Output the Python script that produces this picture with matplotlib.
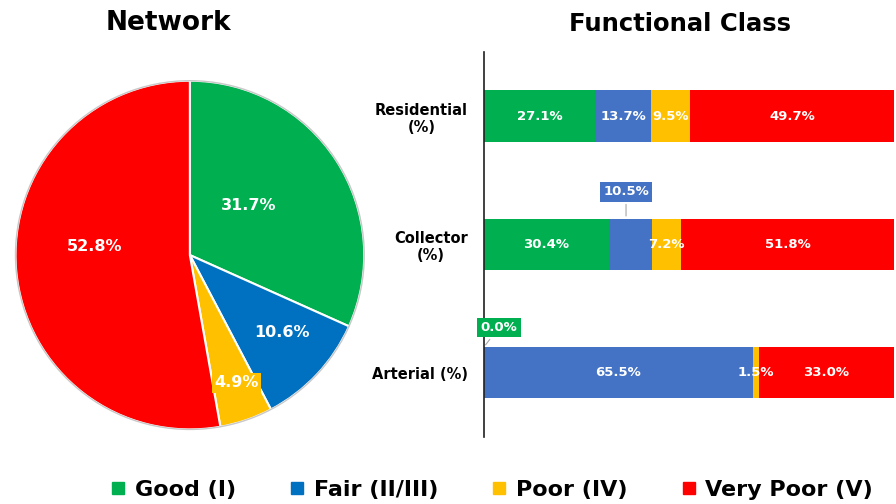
import numpy as np
import matplotlib
matplotlib.use("Agg")
import matplotlib.pyplot as plt
from matplotlib.lines import Line2D

# condition classes
classes = ["Good (I)", "Fair (II/III)", "Poor (IV)", "Very Poor (V)"]

# network-wide share (%)
network = [31.7, 10.6, 4.9, 52.8]

# share by functional class (%)
func_classes = ["Residential\n(%)", "Collector\n(%)", "Arterial (%)"]
good = [27.1, 30.4, 0.0]
fair = [13.7, 10.5, 65.5]
poor = [9.5, 7.2, 1.5]
very_poor = [49.7, 51.8, 33.0]

pie_colors = ["#00B050", "#0070C0", "#FFC000", "#FF0000"]
bar_colors = ["#00B050", "#4472C4", "#FFC000", "#FF0000"]

fig = plt.figure(figsize=(8.96, 5.04), dpi=100)

# ---- pie: network ----
ax1 = fig.add_axes([0.0134, 0.1409, 0.397, 0.706])
wedges, _ = ax1.pie(network, colors=pie_colors, startangle=90, counterclock=False,
                    wedgeprops=dict(edgecolor="white", linewidth=1.5))
ax1.add_patch(plt.Circle((0, 0), 1.0, fill=False, ec="#C8C8C8", lw=1.0))
ax1.set_xlim(-1.02, 1.02)
ax1.set_ylim(-1.02, 1.02)
ax1.set_aspect("equal")
ax1.axis("off")

# label radius / angle nudge per wedge
lab_r = [0.44, 0.69, 0.78, 0.55]
lab_da = [7, 3, 1, -10]
for w, v, r, da, c in zip(wedges, network, lab_r, lab_da, pie_colors):
    a = np.deg2rad((w.theta1 + w.theta2) / 2 + da)
    kw = {}
    if v < 6:
        kw["bbox"] = dict(boxstyle="square,pad=0.15", fc=c, ec="none")
    ax1.text(r * np.cos(a), r * np.sin(a), f"{v:.1f}%", ha="center", va="center",
             color="white", fontsize=11.5, fontweight="bold", **kw)

fig.text(0.1875, 0.955, "Network", ha="center", va="center", fontsize=19, fontweight="bold")

# ---- stacked bars: functional class ----
ax2 = fig.add_axes([0.540, 0.133, 0.458, 0.764])
series = [good, fair, poor, very_poor]
y = np.arange(len(func_classes))
left = np.zeros(len(func_classes))
# callout labels: (category, class) -> offset (dx %, dy) of the box
callouts = {(1, 1): (-1.0, -0.41), (2, 0): (3.7, -0.354)}
for k, (vals, c) in enumerate(zip(series, bar_colors)):
    vals = np.array(vals)
    ax2.barh(y, vals, left=left, height=0.4, color=c, edgecolor="none")
    for i, v in enumerate(vals):
        xc = left[i] + v / 2
        if (i, k) in callouts:
            dx, dy = callouts[(i, k)]
            xp = 0 if v == 0 else xc + dx
            ax2.annotate(f"{v:.1f}%", xy=(xp, i - 0.2), xytext=(xc + dx if v else dx, i + dy),
                         ha="center", va="center", color="white", fontsize=9.5, fontweight="bold",
                         bbox=dict(boxstyle="square,pad=0.25", fc=c, ec="none"),
                         arrowprops=dict(arrowstyle="-", color="#A6A6A6", lw=0.8))
        else:
            ax2.text(xc, i, f"{v:.1f}%", ha="center", va="center", color="white",
                     fontsize=9.5, fontweight="bold")
    left += vals

ax2.set_xlim(0, 100)
ax2.set_ylim(2.5, -0.5)
ax2.set_yticks(y)
ax2.set_yticklabels(func_classes, fontsize=10.5, fontweight="bold")
for lbl in ax2.get_yticklabels():
    lbl.set_multialignment("center")
ax2.tick_params(axis="y", length=0, pad=11.5)
ax2.set_xticks([])
for s in ["top", "right", "bottom"]:
    ax2.spines[s].set_visible(False)
ax2.spines["left"].set_color("#202020")
ax2.spines["left"].set_linewidth(1.2)

fig.text(0.759, 0.952, "Functional Class", ha="center", va="center", fontsize=17.5, fontweight="bold")

# ---- legend ----
handles = [Line2D([], [], ls="none", marker="s", markersize=8, color=c)
           for c in ["#00B050", "#0070C0", "#FFC000", "#FF0000"]]
fig.legend(handles, classes, loc="center", bbox_to_anchor=(0.549, 0.028), ncol=4,
           frameon=False, prop=dict(size=16, weight="bold"), handlelength=0.7,
           handletextpad=0.4, columnspacing=2.4)

fig.savefig("out.png", dpi=100)
